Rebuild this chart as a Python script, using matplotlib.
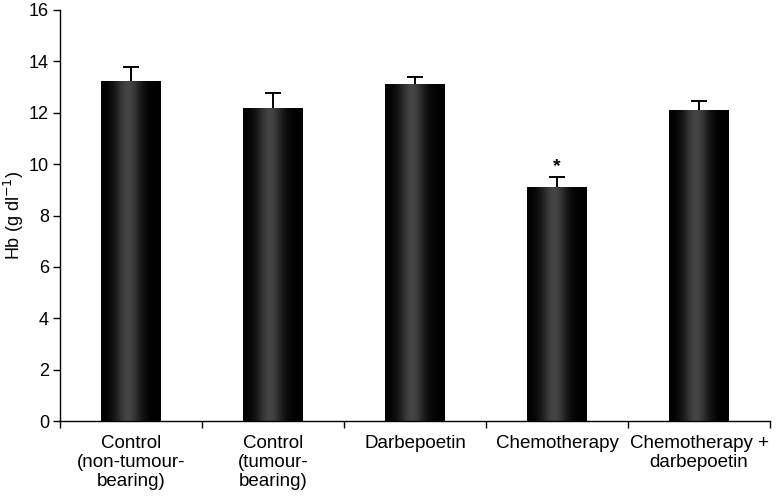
import numpy as np
import matplotlib
matplotlib.use("Agg")
import matplotlib.pyplot as plt
from matplotlib.colors import LinearSegmentedColormap

categories = ["Control\n(non-tumour-\nbearing)", "Control\n(tumour-\nbearing)",
              "Darbepoetin", "Chemotherapy", "Chemotherapy +\ndarbepoetin"]
hb_values = [13.25, 12.2, 13.1, 9.1, 12.1]
hb_errors = [0.55, 0.55, 0.3, 0.4, 0.35]
y_ticks = [0, 2, 4, 6, 8, 10, 12, 14, 16]

plt.rcParams['font.family'] = ['Liberation Sans', 'DejaVu Sans']

fig = plt.figure(figsize=(7.76, 5.01), dpi=100)
ax = fig.add_axes([60/776, 80/501, 710/776, 411/501])

x = np.arange(len(categories))
bars = ax.bar(x, hb_values, width=0.42, color='black', zorder=2)
eb = ax.errorbar(x, hb_values, yerr=[np.zeros(len(hb_errors)), hb_errors], fmt='none',
                 ecolor='black', elinewidth=1.4, capsize=5.5, capthick=1.4, zorder=3)
# hide the lower caps (sitting on bar tops)
caps = eb[1]
if len(caps) == 2:
    lower = min(caps, key=lambda c: np.mean(c.get_ydata()))
    lower.set_visible(False)

# gradient shading inside each bar
cmap = LinearSegmentedColormap.from_list('g', ['#000000', '#444444'])
gx = np.linspace(0, 1, 200)
grad = np.exp(-((gx - 0.45) / 0.22) ** 2)
grad = grad[np.newaxis, :]
for b in bars:
    x0, w, h = b.get_x(), b.get_width(), b.get_height()
    im = ax.imshow(grad, extent=[x0, x0 + w, 0, h], aspect='auto', cmap=cmap,
                   vmin=0, vmax=1, zorder=2.5, interpolation='bilinear')
    im.set_clip_path(b)

# significance marker
ax.text(x[3], hb_values[3] + hb_errors[3] + 0.4, '*', ha='center', va='center',
        fontsize=14, fontweight='bold')

ax.set_xlim(-0.5, len(categories) - 0.5)
ax.set_ylim(0, 16)
ax.set_yticks(y_ticks)
ax.tick_params(axis='y', labelsize=13, length=5, width=1, direction='out', pad=3)
ax.set_xticks(np.arange(len(categories) + 1) - 0.5, minor=False)
ax.set_xticklabels([])
ax.tick_params(axis='x', length=5, width=1, direction='out')
ax.set_xticks(x, minor=True)
ax.set_xticklabels(categories, minor=True, fontsize=13.5, linespacing=1.15)
ax.tick_params(axis='x', which='minor', length=0, pad=10)
ax.spines['top'].set_visible(False)
ax.spines['right'].set_visible(False)
ax.spines['left'].set_linewidth(1)
ax.spines['bottom'].set_linewidth(1)
ax.set_ylabel('Hb (g dl$^{-1}$)', fontsize=13)
ax.yaxis.set_label_coords(-0.048, 0.5)

fig.savefig('out.png', dpi=100)
